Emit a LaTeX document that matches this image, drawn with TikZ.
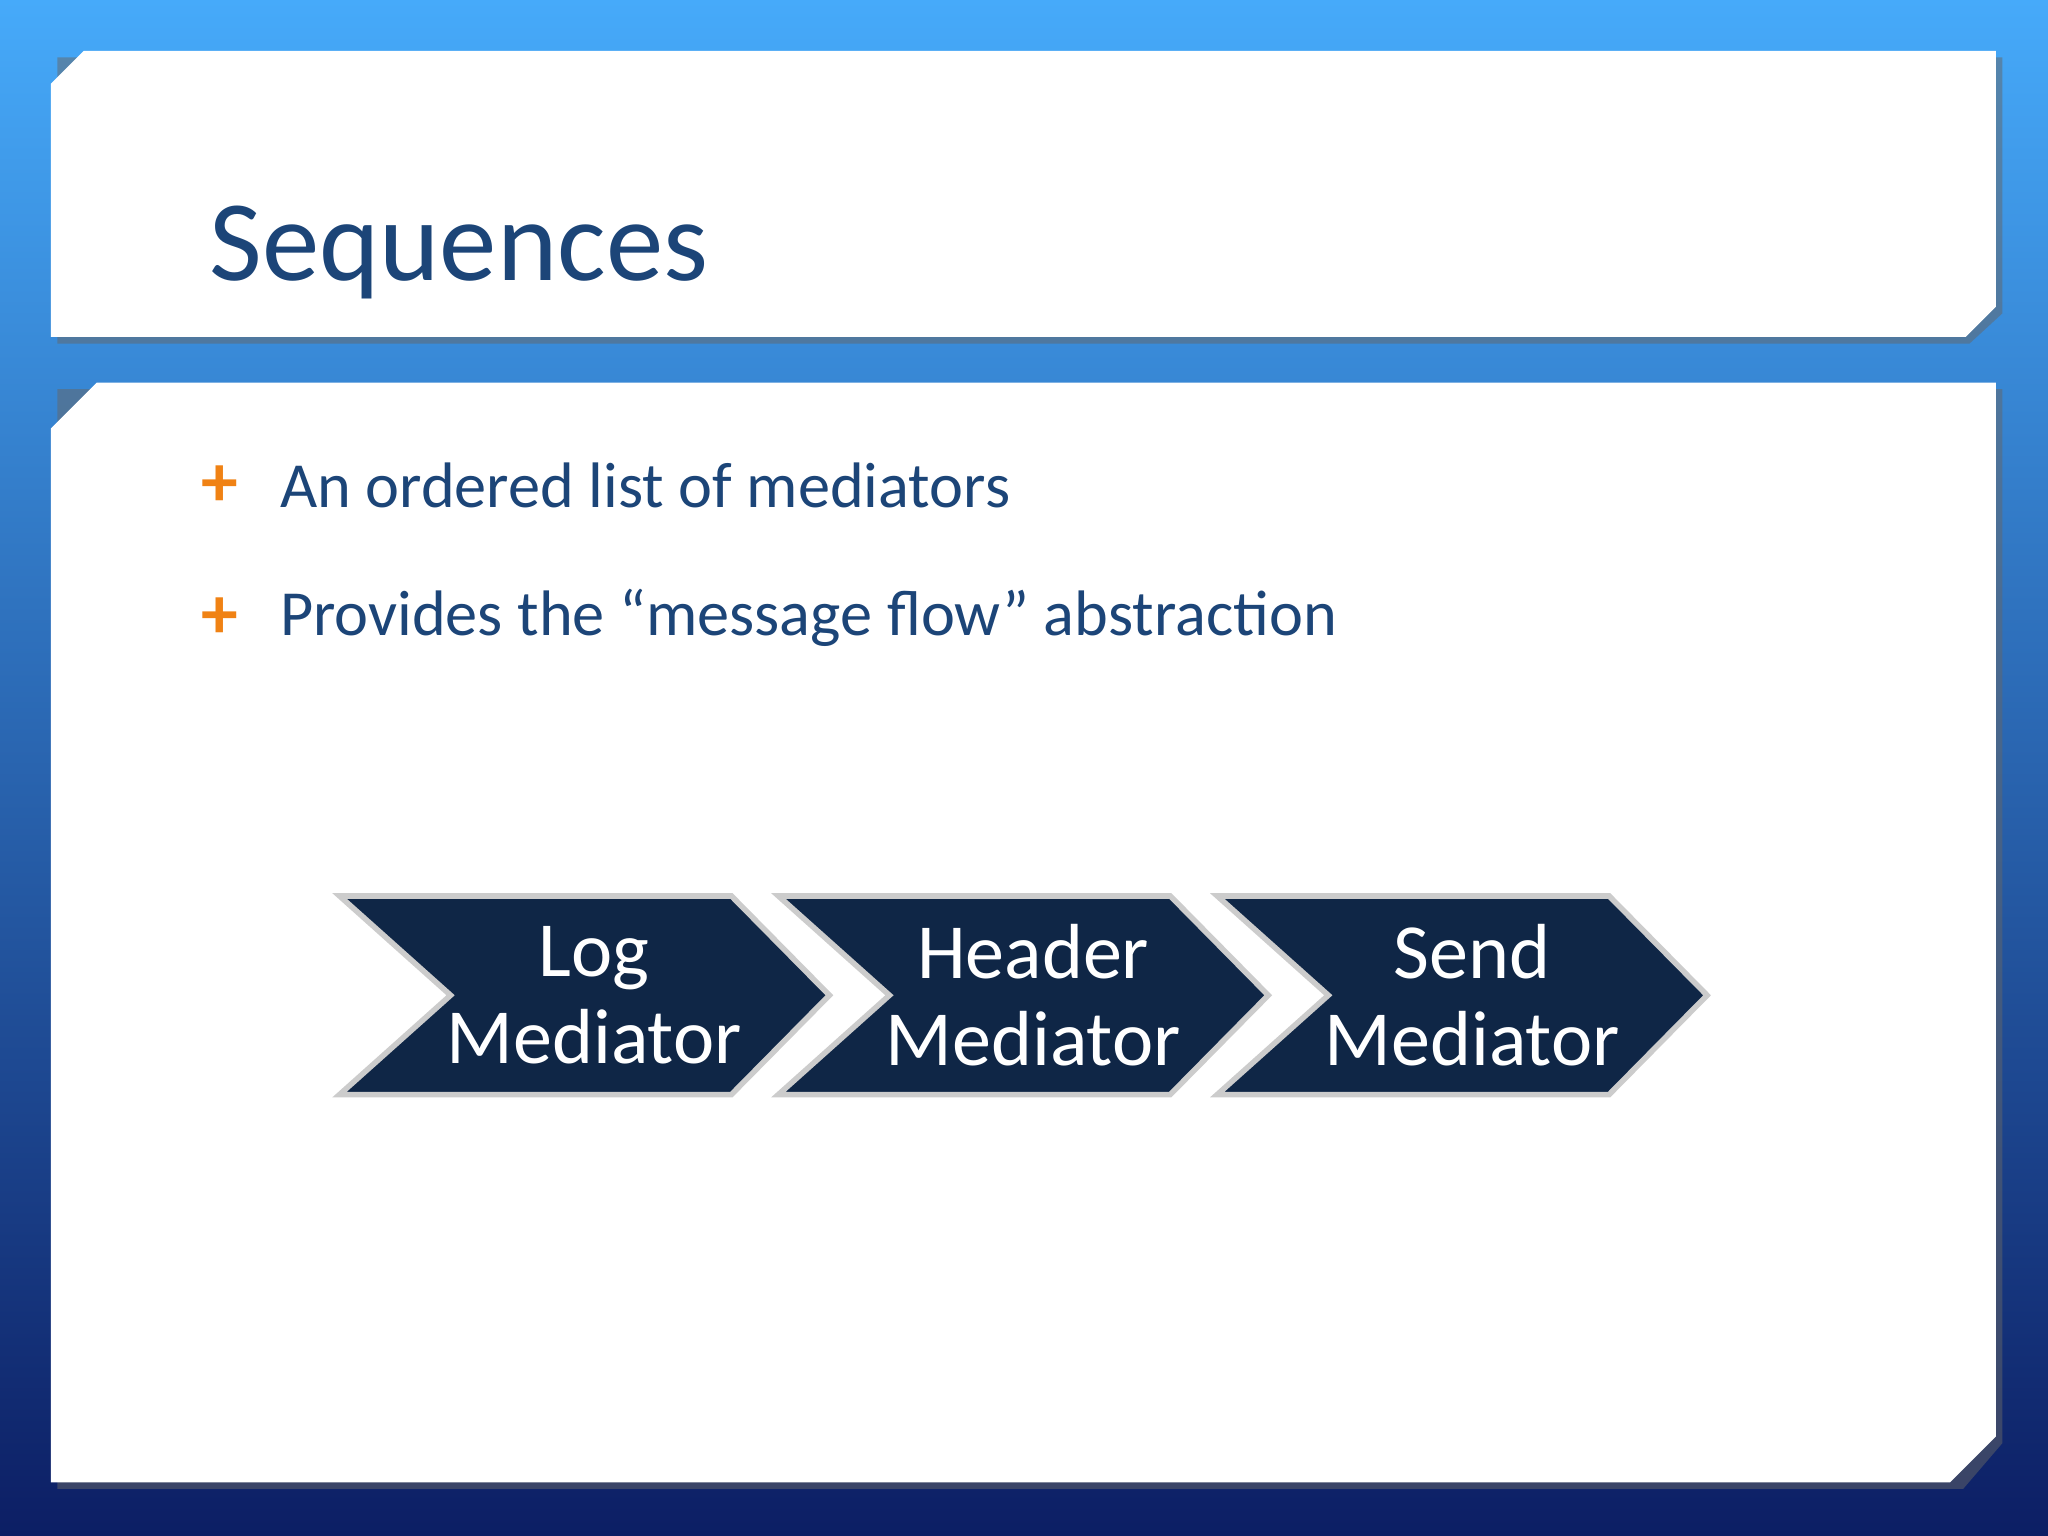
\documentclass[tikz,border=0pt]{standalone}
\usepackage{fontspec}
\setmainfont{Carlito}
\definecolor{titleblue}{RGB}{28,69,120}
\definecolor{navy}{RGB}{15,38,70}
\definecolor{plusorange}{RGB}{240,130,20}
\definecolor{bgtop}{RGB}{70,170,250}
\definecolor{bgbot}{RGB}{12,30,100}
\tikzset{
  panel/.style={fill=white},
  chevron/.style={fill=navy, draw=gray!40, line width=1.2pt},
  chevtext/.style={text=white, align=center, font=\fontsize{17}{19}\selectfont},
  bullet/.style={anchor=west, text=titleblue, font=\fontsize{14}{16}\selectfont},
  plus/.style={text=plusorange, font=\bfseries\fontsize{16}{16}\selectfont}
}
\begin{document}
\begin{tikzpicture}[x=0.01cm,y=-0.01cm]
        % Background
        \shade[top color=bgtop, bottom color=bgbot] (0,0) rectangle (1568,1176);
        \useasboundingbox (0,0) rectangle (1568,1176);

        % Panels with cut corners
        \fill[black!60, opacity=0.5] (44,44) -- ++(1489,0) -- (1533,240) -- (1508,263) -- (44,263) -- cycle;
        \fill[panel] (64,39) -- (1528,39) -- (1528,235) -- (1505,258) -- (39,258) -- (39,64) -- cycle;
        \fill[black!60, opacity=0.5] (44,298) -- (1533,298) -- (1533,1105) -- (1503,1140) -- (44,1140) -- cycle;
        \fill[panel] (74,293) -- (1528,293) -- (1528,1100) -- (1493,1135) -- (39,1135) -- (39,328) -- cycle;

        % Title
        \node[anchor=base west, text=titleblue, font=\fontsize{25}{28}\selectfont] (title) at (148,215) {Sequences};

        % Bullets
        \foreach \t [count=\i from 0] in {An ordered list of mediators, Provides the “message flow” abstraction} {
            \node[plus] (plus\i) at (168,372+101*\i) {+};
            \node[bullet] (item\i) at (202,372+101*\i) {\t};
        }

        % Chevrons
        \foreach \a/\b [count=\i from 0] in {Log/Mediator, Header/Mediator, Send/Mediator} {
            \pgfmathsetmacro{\dx}{336*\i}
            \draw[chevron] (260+\dx,686) -- (560+\dx,686) -- (635+\dx,762) -- (560+\dx,838)
                -- (260+\dx,838) -- (345+\dx,762) -- cycle;
            \node[chevtext] (step\i) at (455+\dx,762) {\a\\\b};
        }
\end{tikzpicture}
\end{document}
